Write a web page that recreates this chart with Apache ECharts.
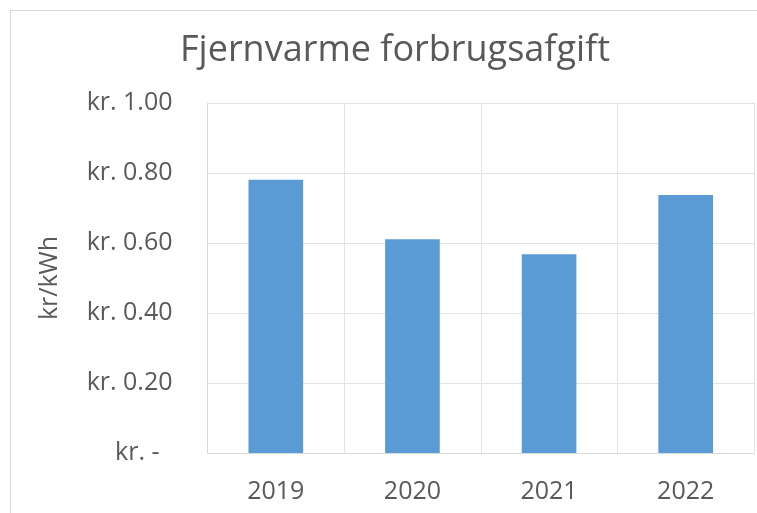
<!DOCTYPE html>
<html>
<head>
<meta charset="utf-8">
<script src="https://cdn.jsdelivr.net/npm/echarts@6/dist/echarts.min.js"></script>
<style>
  html, body { margin: 0; padding: 0; background: #fff; }
  #chart { width: 757px; height: 513px; }
</style>
</head>
<body>
<div id="chart"></div>
<script>
const years = ['2019', '2020', '2021', '2022']
const afgift = [0.781, 0.611, 0.568, 0.737]

const chart = echarts.init(document.getElementById('chart'))
const font = '"Open Sans", sans-serif'

chart.setOption({
  animation: false,
  // ramme om diagrammet
  graphic: [{
    type: 'rect',
    shape: { x: 10.5, y: 10.5, width: 900, height: 700 },
    style: { fill: 'none', stroke: '#d9d9d9', lineWidth: 1 },
    silent: true
  }],
  title: {
    text: 'Fjernvarme forbrugsafgift',
    left: 390, top: 28, textAlign: 'center',
    textStyle: { fontFamily: font, fontSize: 36, fontWeight: 'normal', color: '#595959' }
  },
  grid: { left: 207.5, right: 3, top: 103, bottom: 60 },
  xAxis: {
    type: 'category',
    data: years,
    axisLine: { lineStyle: { color: '#d9d9d9' } },
    axisTick: { show: false },
    splitLine: { show: true, lineStyle: { color: '#e3e3e3' } },
    axisLabel: { margin: 26, fontFamily: font, fontSize: 25, color: '#595959' }
  },
  yAxis: {
    type: 'value',
    min: 0, max: 1, interval: 0.2,
    name: 'kr/kWh',
    nameLocation: 'middle',
    nameGap: 145,
    nameTextStyle: { fontFamily: font, fontSize: 25, color: '#595959' },
    axisLine: { show: true, lineStyle: { color: '#d9d9d9' } },
    axisTick: { show: false },
    splitLine: { lineStyle: { color: '#e3e3e3' } },
    axisLabel: {
      margin: 35, fontFamily: font, fontSize: 25, color: '#595959',
      formatter: v => v === 0 ? 'kr. -  ' : 'kr. ' + v.toFixed(2)
    }
  },
  series: [{
    type: 'bar',
    data: afgift,
    barWidth: '40%',
    itemStyle: { color: '#5b9bd5' }
  }]
})
</script>
</body>
</html>
